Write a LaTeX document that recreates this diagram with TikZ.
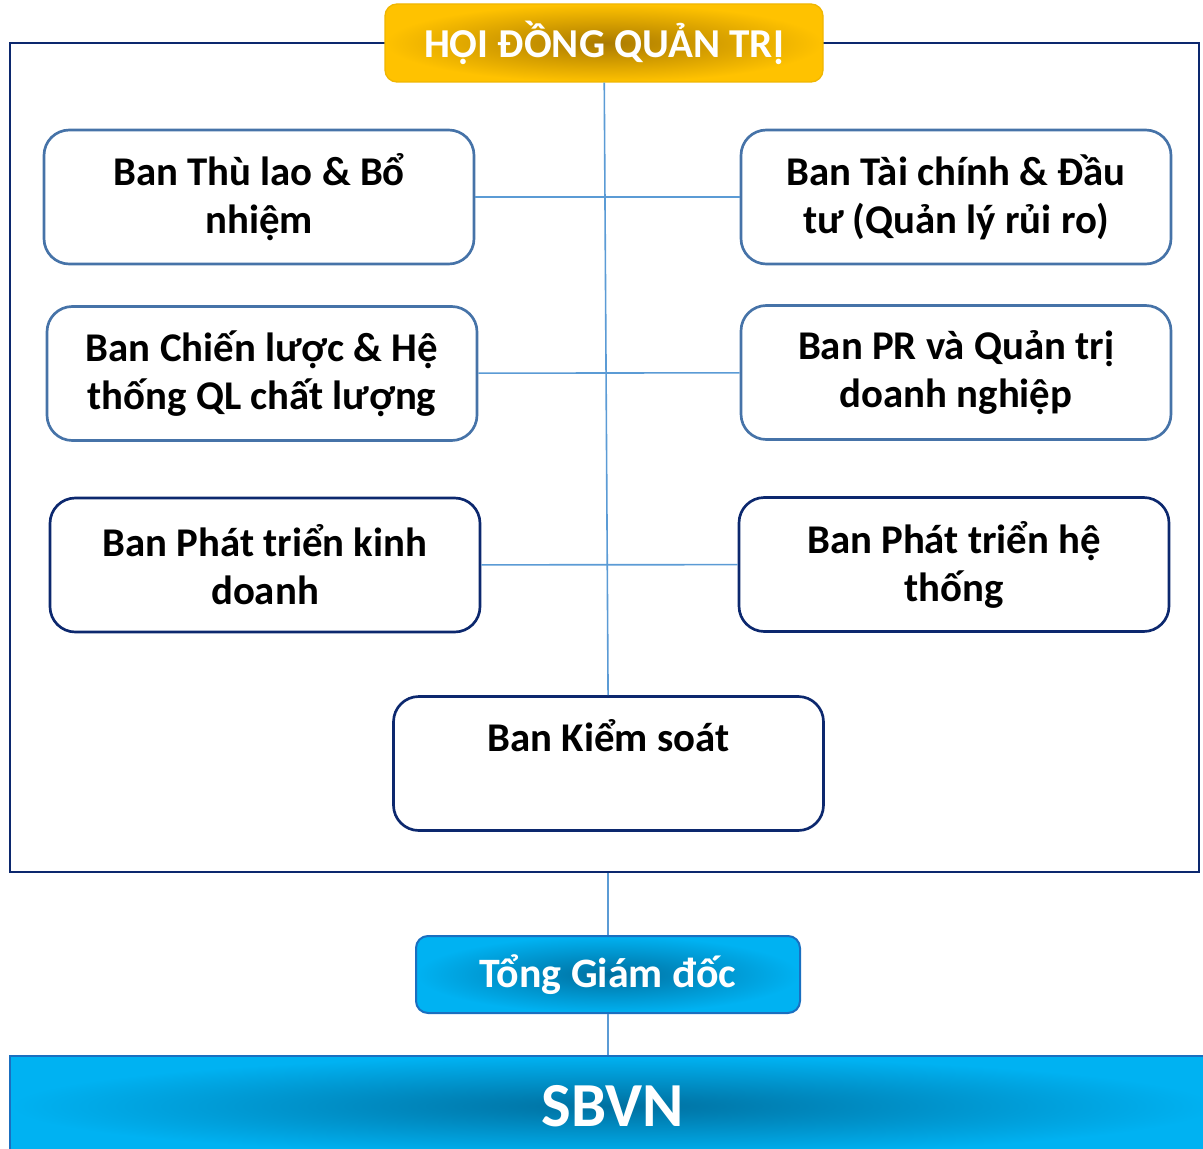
\documentclass[tikz,border=0pt]{standalone}
\usepackage{fontspec}
\setmainfont{Carlito}
\usetikzlibrary{positioning}

\definecolor{navyline}{RGB}{12,40,110}
\definecolor{steelline}{RGB}{70,115,168}
\definecolor{linkblue}{RGB}{91,155,213}
\definecolor{goldin}{RGB}{170,122,0}
\definecolor{goldout}{RGB}{255,194,0}
\definecolor{goldedge}{RGB}{240,182,0}
\definecolor{skyin}{RGB}{0,112,160}
\definecolor{skyout}{RGB}{0,178,242}
\definecolor{skyedge}{RGB}{26,111,192}

\tikzset{
  ban/.style={draw=steelline, line width=2pt, rounded corners=19pt, fill=white,
    minimum width=322.5pt, minimum height=100.5pt, align=center, inner sep=0pt,
    font=\bfseries\fontsize{30.6}{36}\selectfont},
  bandark/.style={ban, draw=navyline},
  link/.style={draw=linkblue, line width=1.2pt},
}

\begin{document}
\begin{tikzpicture}[x=0.75pt, y=-0.75pt]
                \useasboundingbox (0,0) rectangle (1203,1149);

                % khung hoi dong
                \node[draw=navyline, line width=2.2pt, minimum width=891.75pt, minimum height=621.75pt, inner sep=0pt] (board) at (604.5,457.5) {};

                \node[draw=goldedge, line width=1pt, rounded corners=9pt, shading=radial, inner color=goldin, outer color=goldout,
                  minimum width=328.5pt, minimum height=58.5pt, text=white, font=\bfseries\fontsize{30.8}{36}\selectfont] (hdqt) at (604,43) {HỘI ĐỒNG QUẢN TRỊ};

                \node[ban] (thulao) at (259,197) {Ban Thù lao \& Bổ\\nhiệm};
                \node[ban] (taichinh) at (956,197) {Ban Tài chính \& Đầu\\tư (Quản lý rủi ro)};
                \node[ban] (chienluoc) at (262,373.5) {Ban Chiến lược \& Hệ\\thống QL chất lượng};
                \node[ban] (pr) at (956,372.5) {Ban PR và Quản trị\\doanh nghiệp};
                \node[bandark] (kinhdoanh) at (265,565) {Ban Phát triển kinh\\doanh};
                \node[bandark] (hethong) at (954,564.5) {Ban Phát triển hệ\\thống};
                \node[bandark] (kiemsoat) at (608.5,763.5) {Ban Kiểm soát\\[6pt]\mbox{}};

                % dieu hanh
                \node[draw=skyedge, line width=1.5pt, rounded corners=9pt, shading=radial, inner color=skyin, outer color=skyout,
                  minimum width=288pt, minimum height=57.75pt, text=white, font=\bfseries\fontsize{31.4}{36}\selectfont] (tgd) at (608,974.5) {Tổng Giám đốc};
                \node[draw=skyedge, line width=1.5pt, shading=radial, inner color=skyin, outer color=skyout,
                  minimum width=903.75pt, minimum height=75pt, text=white, font=\bfseries\fontsize{47}{50}\selectfont] (sbvn) at (612.5,1106) {SBVN};

                \draw[link] (hdqt) to (kiemsoat);
                \draw[link] (thulao) to (taichinh);
                \draw[link] (chienluoc) to (pr);
                \draw[link] (kinhdoanh) to (hethong);
                \draw[link] (tgd.north) to (tgd.north |- board.south);
                \draw[link] (tgd.south) to (tgd.south |- sbvn.north);
            \end{tikzpicture}
\end{document}
